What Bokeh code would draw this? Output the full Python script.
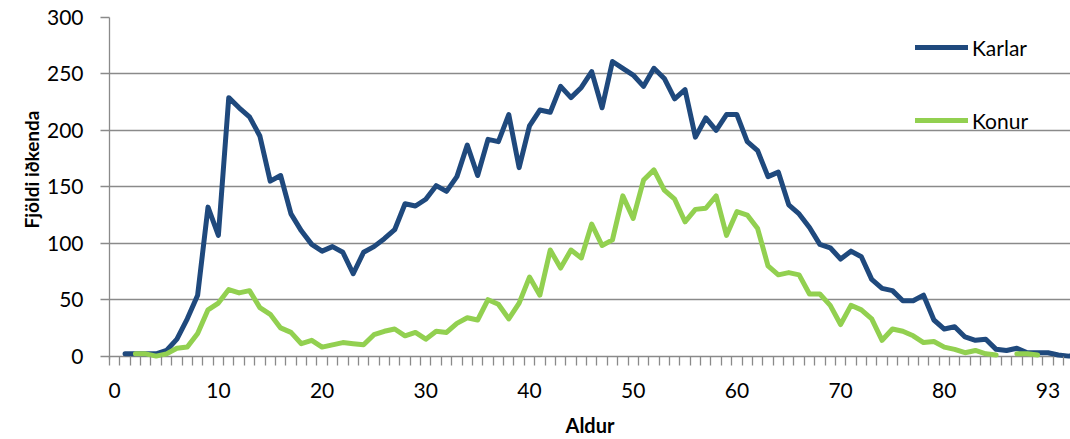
import math
from bokeh.plotting import figure
from bokeh.models import Range1d, FixedTicker, Legend, LegendItem, ColumnDataSource, Title
from bokeh.embed import file_html
from bokeh.resources import INLINE

NaN = float("nan")

# category positions (0..93) and the tick labels shown on the x axis
positions = list(range(94))
tick_positions = [0, 10, 20, 30, 40, 50, 60, 70, 80, 90]
tick_labels = ["0", "10", "20", "30", "40", "50", "60", "70", "80", "93"]

karlar = [NaN, 2, 2, 2, 2, 5, 15, 33, 54, 132,
          107, 229, 220, 212, 195, 155, 160, 126, 111, 99,
          93, 97, 92, 73, 92, 97, 104, 112, 135, 133,
          139, 151, 146, 159, 187, 160, 192, 190, 214, 167,
          204, 218, 216, 239, 229, 238, 252, 220, 261, 255,
          249, 239, 255, 246, 228, 236, 194, 211, 200, 214,
          214, 190, 182, 159, 163, 134, 126, 114, 99, 96,
          86, 93, 88, 68, 60, 58, 49, 49, 54, 32,
          24, 26, 17, 14, 15, 6, 5, 7, 3, 3,
          3, 1, 0, 0]

konur = [NaN, NaN, 2, 2, 0, 2, 7, 8, 20, 41,
         47, 59, 56, 58, 43, 37, 25, 21, 11, 14,
         8, 10, 12, 11, 10, 19, 22, 24, 18, 21,
         15, 22, 21, 29, 34, 32, 50, 46, 33, 47,
         70, 54, 94, 78, 94, 87, 117, 98, 103, 142,
         122, 156, 165, 147, 139, 119, 130, 131, 142, 107,
         128, 125, 113, 80, 72, 74, 72, 55, 55, 45,
         28, 45, 41, 33, 14, 24, 22, 18, 12, 13,
         8, 6, 3, 5, 2, 1, NaN, 2, 2, 1,
         NaN, NaN, NaN, NaN]

y_ticks = [0, 50, 100, 150, 200, 250, 300]

src = ColumnDataSource(dict(x=positions, karlar=karlar, konur=konur))

FONT = "Lato"
GRID = "#8a8a8a"

p = figure(frame_width=961, frame_height=342,
           x_range=Range1d(-0.5, 92.17), y_range=Range1d(-3, 300),
           output_backend="svg", toolbar_location=None,
           min_border_left=109, min_border_right=0, min_border_top=17,
           min_border_bottom=78)
p.outline_line_color = None

r1 = p.line("x", "karlar", source=src, line_color="#1F497D", line_width=5,
            line_join="round", line_cap="round")
r2 = p.line("x", "konur", source=src, line_color="#92D050", line_width=5,
            line_join="round", line_cap="round")

# x axis
xa = p.xaxis[0]
xa.ticker = FixedTicker(ticks=tick_positions,
                        minor_ticks=[i - 0.5 for i in range(0, 94)])
xa.major_label_overrides = {t: l for t, l in zip(tick_positions, tick_labels)}
xa.axis_line_color = None
xa.major_tick_out = 0
xa.major_tick_in = 0
xa.minor_tick_in = 3
xa.minor_tick_out = 6
xa.minor_tick_line_color = GRID
xa.minor_tick_line_width = 1.3
xa.major_label_standoff = 17
xa.major_label_text_font = FONT
xa.major_label_text_font_size = "21px"
xa.major_label_text_color = "black"
xa.axis_label = "Aldur"
xa.axis_label_text_font = FONT
xa.axis_label_text_font_style = "bold"
xa.axis_label_text_font_size = "20px"
xa.axis_label_text_color = "black"
xa.axis_label_standoff = 12

# y axis
ya = p.yaxis[0]
ya.ticker = FixedTicker(ticks=y_ticks)
ya.axis_line_color = GRID
ya.axis_line_width = 1.3
ya.major_tick_line_color = GRID
ya.major_tick_line_width = 1.3
ya.major_tick_out = 9
ya.major_tick_in = 0
ya.minor_tick_line_color = None
ya.major_label_standoff = 17
ya.major_label_text_font = FONT
ya.major_label_text_font_size = "21px"
ya.major_label_text_color = "black"

# y axis title, placed like the reference (slightly above the frame centre)
ytitle = Title(text="Fjöldi iðkenda", align="right", offset=93,
               text_font=FONT, text_font_style="bold",
               text_font_size="19px", text_color="black", standoff=2)
p.add_layout(ytitle, "left")

p.xgrid.grid_line_color = None
p.ygrid.ticker = FixedTicker(ticks=y_ticks)
p.ygrid.grid_line_color = GRID
p.ygrid.grid_line_width = 1.3

legend = Legend(items=[LegendItem(label="Karlar", renderers=[r1]),
                       LegendItem(label="Konur", renderers=[r2])],
                location=(806, 226), border_line_color=None,
                background_fill_alpha=0, padding=0, margin=0, spacing=47,
                glyph_width=53, glyph_height=26, label_height=26,
                label_standoff=4, label_text_font=FONT,
                label_text_font_size="21px", label_text_color="black")
p.add_layout(legend)

open("out.html", "w").write(file_html(p, INLINE))
